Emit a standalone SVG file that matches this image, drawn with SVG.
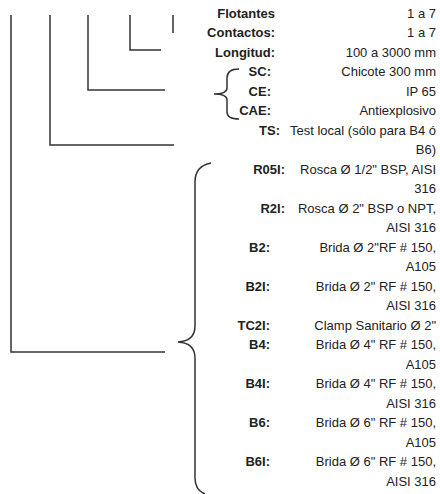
<svg xmlns="http://www.w3.org/2000/svg" width="440" height="494" viewBox="0 0 440 494">
<style>
.lbl{font-family:"Liberation Sans",Arial,sans-serif;font-size:13px;font-weight:bold;fill:#222;text-anchor:end}
.val{font-family:"Liberation Sans",Arial,sans-serif;font-size:13px;fill:#222;text-anchor:end}
.ln{stroke:#333;stroke-width:1.5;fill:none}
</style>
<rect width="440" height="494" fill="#fff"/>
<g id="connectors">
<path class="ln" d="M11,15 V352 H165"/>
<path class="ln" d="M50,15 V145 H174"/>
<path class="ln" d="M88,15 V90 H165"/>
<path class="ln" d="M130,15 V50 H161"/>
<path class="ln" d="M173,15 V33"/>
<path class="ln" d="M239,69 Q227,69 227,78 V88 Q227,94 214,94 Q227,94 227,100 V112 Q227,119 239,119"/>
<path class="ln" d="M211,163 Q195,166 195,182 V326 Q195,341 178,342 Q195,343 195,358 V478 Q195,490 205,494"/>
</g>
<g id="flotantes"><text class="lbl" x="275" y="17.5">Flotantes</text><text class="val" x="436" y="17.5">1 a 7</text></g>
<g id="contactos"><text class="lbl" x="275" y="37">Contactos:</text><text class="val" x="436" y="37">1 a 7</text></g>
<g id="longitud"><text class="lbl" x="275" y="56.5">Longitud:</text><text class="val" x="436" y="56.5">100 a 3000 mm</text></g>
<g id="sc"><text class="lbl" x="271" y="76">SC:</text><text class="val" x="436" y="76">Chicote 300 mm</text></g>
<g id="ce"><text class="lbl" x="271" y="95.5">CE:</text><text class="val" x="436" y="95.5">IP 65</text></g>
<g id="cae"><text class="lbl" x="271" y="115">CAE:</text><text class="val" x="436" y="115">Antiexplosivo</text></g>
<g id="ts"><text class="lbl" x="280" y="134.5">TS:</text><text class="val" x="436" y="134.5">Test local (sólo para B4 ó</text><text class="val" x="436" y="154">B6)</text></g>
<g id="r05i"><text class="lbl" x="285" y="173.5">R05I:</text><text class="val" x="436" y="173.5">Rosca Ø 1/2" BSP, AISI</text><text class="val" x="436" y="193">316</text></g>
<g id="r2i"><text class="lbl" x="285" y="212.5">R2I:</text><text class="val" x="436" y="212.5">Rosca Ø 2" BSP o NPT,</text><text class="val" x="436" y="232">AISI 316</text></g>
<g id="b2"><text class="lbl" x="270" y="251.5">B2:</text><text class="val" x="436" y="251.5">Brida Ø 2"RF # 150,</text><text class="val" x="436" y="271">A105</text></g>
<g id="b2i"><text class="lbl" x="270" y="290.5">B2I:</text><text class="val" x="436" y="290.5">Brida Ø 2" RF # 150,</text><text class="val" x="436" y="310">AISI 316</text></g>
<g id="tc2i"><text class="lbl" x="270" y="329.5">TC2I:</text><text class="val" x="436" y="329.5">Clamp Sanitario Ø 2"</text></g>
<g id="b4"><text class="lbl" x="270" y="349">B4:</text><text class="val" x="436" y="349">Brida Ø 4" RF # 150,</text><text class="val" x="436" y="368.5">A105</text></g>
<g id="b4i"><text class="lbl" x="270" y="388">B4I:</text><text class="val" x="436" y="388">Brida Ø 4" RF # 150,</text><text class="val" x="436" y="407.5">AISI 316</text></g>
<g id="b6"><text class="lbl" x="270" y="427">B6:</text><text class="val" x="436" y="427">Brida Ø 6" RF # 150,</text><text class="val" x="436" y="446.5">A105</text></g>
<g id="b6i"><text class="lbl" x="270" y="466">B6I:</text><text class="val" x="436" y="466">Brida Ø 6" RF # 150,</text><text class="val" x="436" y="485.5">AISI 316</text></g>
</svg>
